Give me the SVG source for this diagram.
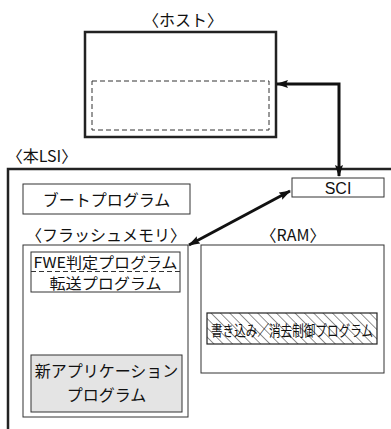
<svg xmlns="http://www.w3.org/2000/svg" width="391" height="429" viewBox="0 0 391 429">
<style>
text{font-family:"Noto Sans CJK JP","Noto Sans",sans-serif;font-size:16px;fill:#111;text-anchor:middle;dominant-baseline:central}
.thin{fill:#fff;stroke:#333;stroke-width:1}
.thick{fill:none;stroke:#222;stroke-width:2.5}
.dash{fill:none;stroke:#333;stroke-width:1;stroke-dasharray:5 3}
.conn{fill:none;stroke:#111;stroke-width:3}
.sm{font-size:15px}
</style>
<defs>
<marker id="ah" viewBox="0 0 12 8" refX="11" refY="4" markerWidth="12" markerHeight="8" markerUnits="userSpaceOnUse" orient="auto-start-reverse">
<path d="M0,0 L12,4 L0,8 L2,4 Z" fill="#111"/>
</marker>
<pattern id="hatch" width="6.6" height="6.6" patternUnits="userSpaceOnUse" patternTransform="rotate(-45)">
<rect width="6.6" height="6.6" fill="#fff"/>
<line x1="0" y1="0" x2="0" y2="6.6" stroke="#222" stroke-width="1"/>
</pattern>
</defs>
<g id="host">
<text x="183" y="19">〈ホスト〉</text>
<rect x="85" y="32" width="191" height="105" class="thick"/>
<rect x="92" y="81" width="177" height="49" class="dash"/>
</g>
<g id="lsi">
<text x="42" y="155">〈本LSI〉</text>
<path d="M8,429 V169 H391" class="thick"/>
</g>
<g id="boot">
<rect x="23" y="184" width="167" height="30" class="thin"/>
<text x="106.5" y="199">ブートプログラム</text>
</g>
<g id="flash">
<text x="106" y="234">〈フラッシュメモリ〉</text>
<rect x="23" y="245" width="165" height="172" class="thin"/>
</g>
<g id="fwe">
<rect x="31" y="252" width="149" height="40" class="thin"/>
<line x1="31" y1="271.5" x2="180" y2="271.5" class="dash"/>
<text x="105.5" y="261.5" class="sm" textLength="144" lengthAdjust="spacingAndGlyphs">FWE判定プログラム</text>
<text x="105.5" y="282.5" class="sm" textLength="112" lengthAdjust="spacingAndGlyphs">転送プログラム</text>
</g>
<g id="newapp">
<rect x="31" y="355" width="151" height="57" fill="#e4e4e4" stroke="#333" stroke-width="1"/>
<text x="106.5" y="370">新アプリケーション</text>
<text x="106.5" y="394">プログラム</text>
</g>
<g id="sci">
<rect x="292" y="178" width="92" height="19" class="thin"/>
<text x="338" y="188" style="font-family:'Liberation Sans',sans-serif">SCI</text>
</g>
<g id="ram">
<text x="293" y="234">〈RAM〉</text>
<rect x="201" y="245" width="183" height="128" class="thin"/>
</g>
<g id="writeerase">
<rect x="207" y="313" width="170" height="31" fill="url(#hatch)" stroke="#222" stroke-width="1.2"/>
<text x="292" y="329" class="sm" textLength="162" lengthAdjust="spacingAndGlyphs">書き込み／消去制御プログラム</text>
</g>
<g id="connectors">
<path d="M339,176 V84 H277" class="conn" marker-start="url(#ah)" marker-end="url(#ah)"/>
<line x1="290" y1="191" x2="189" y2="245" class="conn" marker-start="url(#ah)" marker-end="url(#ah)"/>
</g>
</svg>
